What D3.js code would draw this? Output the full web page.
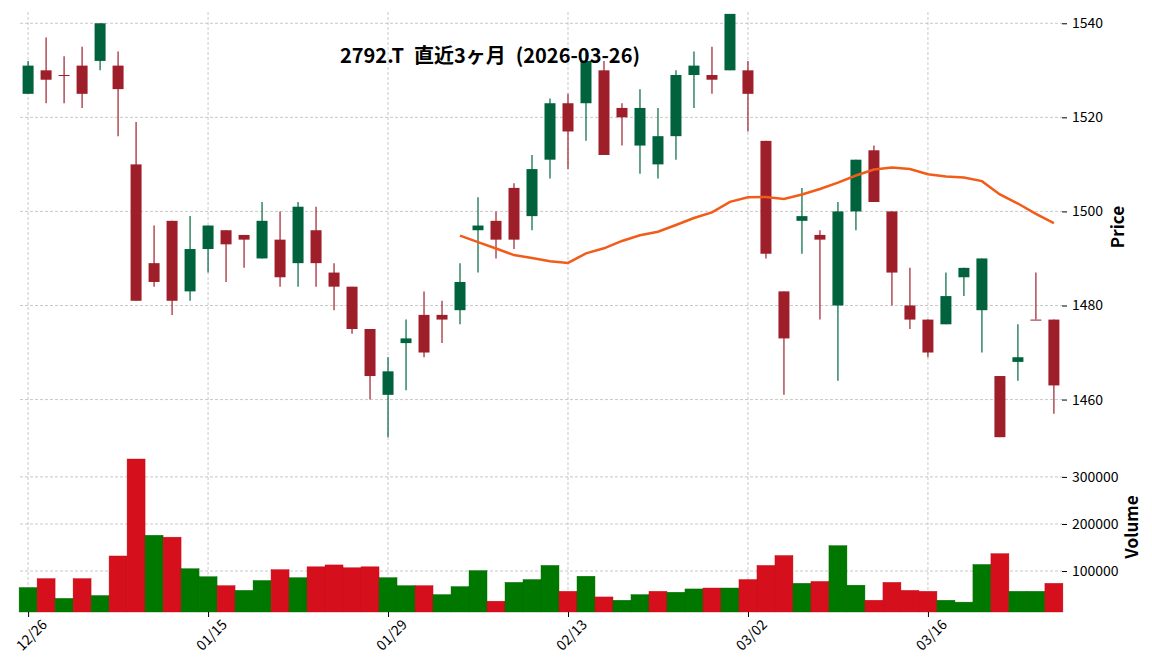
<!DOCTYPE html>
<html><head><meta charset="utf-8">
<script src="https://cdn.jsdelivr.net/npm/d3@7"></script>
<style>body{margin:0;background:#fff;font-family:"Noto Sans CJK JP","Noto Sans",sans-serif}</style>
</head><body><svg id="c" width="1152" height="670"></svg>
<script>
const opens  = [1525,1530,1529,1531,1532,1531,1510,1489,1498,1483,1492,1496,1495,1490,1494,1489,1496,1487,1484,1475,1461,1472,1478,1478,1479,1496,1498,1505,1499,1511,1523,1523,1530,1522,1514,1510,1516,1529,1529,1530,1530,1515,1483,1498,1495,1480,1500,1513,1500,1480,1477,1476,1486,1479,1465,1468,1477,1477];
const closes = [1531,1528,1529,1525,1540,1526,1481,1485,1481,1492,1497,1493,1494,1498,1486,1501,1489,1484,1475,1465,1466,1473,1470,1477,1485,1497,1494,1494,1509,1523,1517,1532,1512,1520,1522,1516,1529,1531,1528,1542,1525,1491,1473,1499,1494,1500,1511,1502,1487,1477,1470,1482,1488,1490,1452,1469,1477,1463];
const highs  = [1532,1537,1533,1535,1540,1534,1519,1497,1498,1499,1497,1496,1495,1502,1500,1502,1501,1489,1484,1475,1469,1477,1483,1481,1489,1503,1500,1506,1512,1524,1525,1534,1532,1523,1526,1522,1530,1534,1535,1542,1532,1515,1483,1505,1496,1502,1511,1514,1500,1488,1477,1487,1488,1490,1465,1476,1487,1477];
const lows   = [1525,1523,1523,1522,1530,1516,1481,1484,1478,1481,1487,1485,1488,1490,1484,1484,1484,1479,1474,1460,1452,1462,1469,1472,1476,1487,1490,1492,1496,1507,1509,1515,1512,1514,1508,1507,1511,1522,1525,1530,1517,1490,1461,1491,1477,1464,1496,1502,1480,1475,1469,1476,1482,1470,1452,1464,1477,1457];
const volumes= [65000,84000,42000,84000,48000,132000,338000,176000,172000,105000,88000,69000,59000,80000,103000,86000,109000,113000,107000,109000,86000,69000,69000,50000,67000,101000,36000,76000,82000,112000,57000,89000,45000,38000,50000,57000,55000,62000,64000,64000,82000,112000,133000,74000,78000,154000,70000,38000,76000,59000,57000,38000,34000,114000,137000,57000,57000,74000];
const tickIdx = [0,10,20,30,40,50];
const tickLabels = ["12/26","01/15","01/29","02/13","03/02","03/16"];
const priceTicks = [1460,1480,1500,1520,1540];
const volTicks = [100000,200000,300000];
const maWindow = 25;
const title = "2792.T\u2002直近3ヶ月\u2002(2026-03-26)";

const svg = d3.select("#c");
const n = closes.length;
const x = d3.scaleLinear().domain([-0.45, n-1+0.45]).range([20,1062]);
const y = d3.scaleLinear().domain([1451.4,1542.4]).range([440,12]);
const yv = d3.scaleLinear().domain([13000,372000]).range([612,443]);
const grid = "#bbb";
const fnt = '"Noto Sans CJK JP","Noto Sans",sans-serif';

const defs = svg.append("defs");
defs.append("clipPath").attr("id","cp").append("rect").attr("x",20).attr("y",12).attr("width",1042).attr("height",428);
const g = svg.append("g");
g.selectAll(".vg").data(tickIdx).join("line").attr("x1",d=>x(d)).attr("x2",d=>x(d)).attr("y1",12).attr("y2",612)
 .attr("stroke",grid).attr("stroke-dasharray","3,2").attr("stroke-width",0.8);
g.selectAll(".pg").data(priceTicks).join("line").attr("x1",20).attr("x2",1062).attr("y1",d=>y(d)).attr("y2",d=>y(d))
 .attr("stroke",grid).attr("stroke-dasharray","3,2").attr("stroke-width",0.8);
g.selectAll(".vvg").data(volTicks).join("line").attr("x1",20).attr("x2",1062).attr("y1",d=>yv(d)).attr("y2",d=>yv(d))
 .attr("stroke",grid).attr("stroke-dasharray","3,2").attr("stroke-width",0.8);

const idx = d3.range(n);
const up = i => closes[i] > opens[i];
const cg = svg.append("g").attr("clip-path","url(#cp)");
cg.selectAll(".w").data(idx).join("line").attr("x1",i=>x(i)).attr("x2",i=>x(i))
 .attr("y1",i=>y(highs[i])).attr("y2",i=>y(lows[i])).attr("stroke",i=>up(i)?"#00663e":"#9e1f2b").attr("stroke-width",1.2);
cg.selectAll(".b").data(idx).join("rect").attr("x",i=>x(i)-5.5).attr("width",11)
 .attr("y",i=>y(Math.max(opens[i],closes[i])))
 .attr("height",i=>Math.max(1,Math.abs(y(opens[i])-y(closes[i]))))
 .attr("fill",i=>up(i)?"#00633e":"#9e1f2a");
const ma = idx.filter(i=>i>=maWindow-1).map(i=>[i,d3.mean(closes.slice(i-maWindow+1,i+1))]);
cg.append("path").datum(ma).attr("fill","none").attr("stroke","#f25c19").attr("stroke-width",2.5)
 .attr("d",d3.line().x(d=>x(d[0])).y(d=>y(d[1])));
const vup = i => i===0 ? up(0) : closes[i] >= closes[i-1];
svg.append("g").selectAll("rect").data(idx).join("rect").attr("x",i=>x(i)-9).attr("width",18)
 .attr("y",i=>yv(volumes[i])).attr("height",i=>612-yv(volumes[i]))
 .attr("fill",i=>vup(i)?"#007800":"#d50f1b").attr("stroke",i=>vup(i)?"#006a00":"#c00d18").attr("stroke-width",0.4);

const ay = d3.axisRight(y).tickValues(priceTicks).tickFormat(d3.format("d")).tickSize(5).tickPadding(5);
const ga = svg.append("g").attr("transform","translate(1062,0)").call(ay);
const av = d3.axisRight(yv).tickValues(volTicks).tickFormat(d3.format("d")).tickSize(5).tickPadding(5);
const gv = svg.append("g").attr("transform","translate(1062,0)").call(av);
const ax = d3.axisBottom(x).tickValues(tickIdx).tickFormat((d,i)=>tickLabels[i]).tickSize(5).tickPadding(3);
const gx = svg.append("g").attr("transform","translate(0,612)").call(ax);
[ga,gv,gx].forEach(a=>{a.select(".domain").remove();a.selectAll("text").attr("font-family",fnt).attr("font-size",14).attr("fill","#000");a.selectAll("line").attr("stroke","#000");});
gx.selectAll("text").attr("text-anchor","end").attr("dx","0.3em").attr("dy","1.1em").attr("transform","rotate(-45)");

svg.append("text").attr("transform","translate(1124,227) rotate(-90)").attr("text-anchor","middle")
 .attr("font-family",fnt).attr("font-size",17).attr("font-weight","bold").text("Price");
svg.append("text").attr("transform","translate(1138,527) rotate(-90)").attr("text-anchor","middle")
 .attr("font-family",fnt).attr("font-size",17).attr("font-weight","bold").text("Volume");
svg.append("text").attr("x",490).attr("y",63).attr("text-anchor","middle").attr("font-family",fnt)
 .attr("font-size",20).attr("font-weight","bold").text(title);
</script></body></html>
